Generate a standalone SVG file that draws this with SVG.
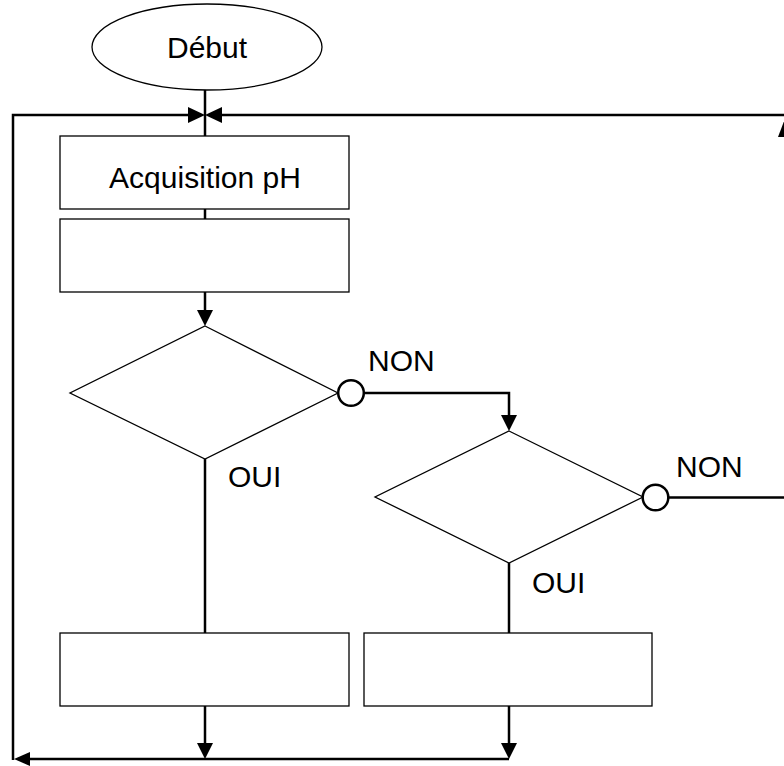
<svg xmlns="http://www.w3.org/2000/svg" width="784" height="766" viewBox="0 0 784 766">
<style>
.node{fill:#fff;stroke:#000;stroke-width:1.3}
.conn{fill:none;stroke:#000;stroke-width:2.5}
.dot{fill:#fff;stroke:#000;stroke-width:2.5}
.head{fill:#000;stroke:none}
text{font-family:"Liberation Sans",Arial,sans-serif;font-size:30px;fill:#000}
.c{text-anchor:middle}
</style>
<rect width="784" height="766" fill="#fff"/>
<g id="connectors">
<path class="conn" d="M205,90 V136"/>
<path class="conn" d="M13,760 V115 H190"/>
<path class="head" d="M205,115 L188,107 L188,123 Z"/>
<path class="conn" d="M786,115 H220"/>
<path class="head" d="M205,115 L222,107 L222,123 Z"/>
<path class="conn" d="M205,209 V219"/>
<path class="conn" d="M205,292 V311"/>
<path class="head" d="M205,326 L197,310 L213,310 Z"/>
<path class="conn" d="M364,393 H509 V416"/>
<path class="head" d="M509,431 L501,415 L517,415 Z"/>
<path class="conn" d="M668,497.5 H786 V137"/>
<path class="head" d="M786,116 L778,137 L794,137 Z"/>
<path class="conn" d="M205,459 V633"/>
<path class="conn" d="M509,563 V633"/>
<path class="conn" d="M205,706 V744"/>
<path class="head" d="M205,759 L197,743 L213,743 Z"/>
<path class="conn" d="M509,706 V744"/>
<path class="head" d="M509,759 L501,743 L517,743 Z"/>
<path class="conn" d="M509,759 H29"/>
<path class="head" d="M14,759 L30,752 L30,766 Z"/>
</g>
<g id="debut">
<ellipse class="node" cx="207" cy="47" rx="115" ry="43"/>
<text class="c" x="207" y="58">Début</text>
</g>
<g id="acquisition">
<rect class="node" x="60" y="136" width="289" height="73"/>
<text class="c" x="205" y="188">Acquisition pH</text>
</g>
<g id="process1">
<rect class="node" x="60" y="219" width="289" height="73"/>
</g>
<g id="decision1">
<polygon class="node" points="205,326 338,393 205,459 70,393"/>
<circle class="dot" cx="351" cy="393" r="12.8"/>
<text x="368" y="371">NON</text>
<text x="228" y="487">OUI</text>
</g>
<g id="decision2">
<polygon class="node" points="509,431 643,497 509,563 375,497"/>
<circle class="dot" cx="655.5" cy="497.5" r="12.8"/>
<text x="676" y="477">NON</text>
<text x="532" y="593">OUI</text>
</g>
<g id="process2">
<rect class="node" x="60" y="633" width="289" height="73"/>
</g>
<g id="process3">
<rect class="node" x="364" y="633" width="288" height="73"/>
</g>
</svg>
